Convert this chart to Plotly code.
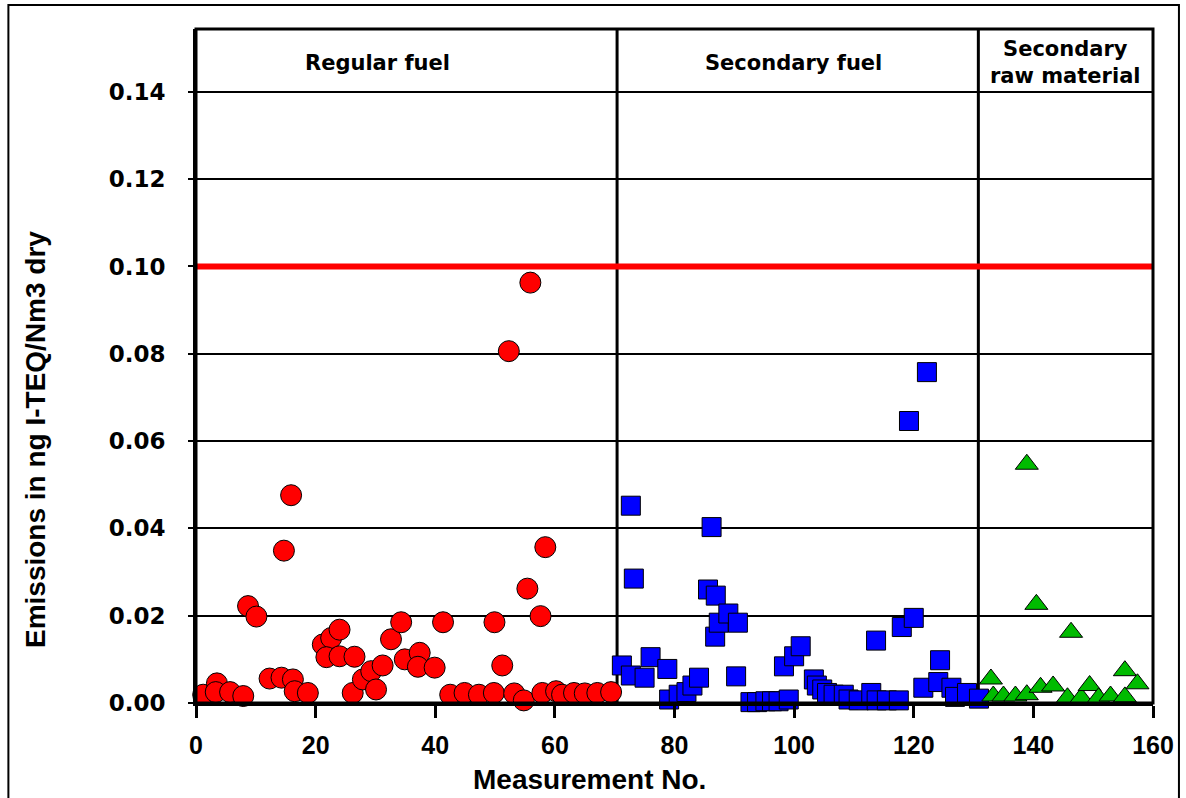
import plotly.graph_objects as go

# Regular fuel (red circles)
reg_x = [1.2, 3.5, 3.3, 5.7, 7.9, 8.7, 10.1, 12.3, 14.3, 16.2, 16.5, 18.7, 14.7, 15.9,
         21.2, 22.6, 24.0, 21.8, 24.0, 26.5, 26.2, 27.9, 29.3, 30.1, 31.2, 32.6, 34.3,
         34.9, 37.4, 37.1, 39.9, 41.3, 42.5, 44.9, 47.3, 49.8, 49.9, 51.2, 52.3, 53.2,
         54.8, 55.4, 55.9, 57.6, 57.9, 58.4, 60.2, 61.2, 63.2, 65.0, 67.1, 69.4]
reg_y = [0.0019, 0.0045, 0.0025, 0.0025, 0.0016, 0.0222, 0.0198, 0.0056, 0.0058, 0.0054,
         0.0027, 0.0023, 0.0349, 0.0476, 0.0134, 0.0149, 0.0168, 0.0105, 0.0107, 0.0106,
         0.0023, 0.0054, 0.0073, 0.0031, 0.0086, 0.0146, 0.0185, 0.0100, 0.0115, 0.0083,
         0.0081, 0.0185, 0.0019, 0.0023, 0.0019, 0.0023, 0.0185, 0.0086, 0.0806, 0.0022,
         0.0006, 0.0262, 0.0963, 0.0199, 0.0023, 0.0357, 0.0027, 0.0019, 0.0023, 0.0022,
         0.0023, 0.0025]

# Secondary fuel (blue squares)
sec_x = [71.2, 72.7, 72.7, 73.2, 75.0, 76.0, 78.8, 79.1, 80.7, 82.0, 83.0, 84.1, 85.6,
         86.2, 86.8, 86.9, 87.4, 89.0, 90.3, 90.6, 92.7, 93.8, 95.2, 96.3, 97.4, 98.3,
         99.1, 100.0, 101.1, 103.3, 103.8, 104.7, 105.5, 106.6, 108.3, 109.1, 110.8,
         112.9, 113.7, 113.8, 115.5, 117.5, 118.0, 119.2, 120.0, 121.6, 122.2, 124.1,
         124.4, 126.3, 126.9, 128.9, 128.9, 130.9]
sec_y = [0.0086, 0.0452, 0.0063, 0.0285, 0.0058, 0.0105, 0.0078, 0.0008, 0.0019, 0.0025,
         0.0040, 0.0058, 0.0260, 0.0403, 0.0152, 0.0246, 0.0184, 0.0205, 0.0061, 0.0184,
         0.0002, 0.0002, 0.0004, 0.0004, 0.0004, 0.0084, 0.0008, 0.0107, 0.0130, 0.0054,
         0.0040, 0.0031, 0.0023, 0.0019, 0.0019, 0.0008, 0.0006, 0.0023, 0.0143, 0.0006,
         0.0006, 0.0006, 0.0174, 0.0646, 0.0195, 0.0035, 0.0758, 0.0048, 0.0098, 0.0035,
         0.0014, 0.0023, -0.0006, 0.0010]

# Secondary raw material (green triangles)
raw_x = [132.9, 133.3, 135.0, 137.0, 138.9, 138.9, 140.5, 141.2, 143.3, 145.7, 146.3,
         148.0, 149.4, 150.9, 152.9, 155.3, 155.3, 157.4]
raw_y = [0.0055, 0.0016, 0.0016, 0.0016, 0.0019, 0.0547, 0.0226, 0.0036, 0.0039, 0.0012,
         0.0162, 0.0012, 0.0040, 0.0012, 0.0016, 0.0074, 0.0014, 0.0044]

limit_value = 0.10
dividers = [70.4, 130.8]
group_labels = ["Regular fuel", "Secondary fuel", "Secondary<br>raw material"]
group_label_x = [30.4, 99.9, 145.3]

y_ticks = [0.0, 0.02, 0.04, 0.06, 0.08, 0.10, 0.12, 0.14]
y_tick_text = ["0.00", "0.02", "0.04", "0.06", "0.08", "0.10", "0.12", "0.14"]
x_ticks = [0, 20, 40, 60, 80, 100, 120, 140, 160]

NARROW = "Liberation Sans Narrow, Arial Narrow, Liberation Sans, Arial, sans-serif"
WIDE = "DejaVu Sans, Verdana, sans-serif"

# pixel geometry of plot area
L, R, T, B = 196, 1155, 29, 703.5
PW, PH = R - L, B - T


def px(xp):
    return (xp - L) / PW


def py(yp):
    return (B - yp) / PH


fig = go.Figure()
fig.add_trace(go.Scatter(x=reg_x, y=reg_y, mode="markers", cliponaxis=False,
                         marker=dict(symbol="circle", size=21, color="#ff0000",
                                     line=dict(color="black", width=1))))
fig.add_trace(go.Scatter(x=sec_x, y=sec_y, mode="markers", cliponaxis=False,
                         marker=dict(symbol="square", size=19, color="#0000ff",
                                     line=dict(color="black", width=1))))
fig.add_trace(go.Scatter(x=raw_x, y=raw_y, mode="markers", cliponaxis=False,
                         marker=dict(symbol="triangle-up", size=20, color="#00bb00",
                                     line=dict(color="black", width=1))))

shapes = []
for d in dividers:
    shapes.append(dict(type="line", xref="x", yref="paper", x0=d, x1=d, y0=0, y1=1,
                       line=dict(color="black", width=3), layer="between"))
shapes.append(dict(type="line", xref="paper", yref="y", x0=0, x1=1, y0=limit_value,
                   y1=limit_value, line=dict(color="#ff0000", width=6), layer="above"))
# plot box
shapes.append(dict(type="rect", xref="paper", yref="paper", x0=0, x1=1, y0=0, y1=1,
                   line=dict(color="black", width=3), layer="above"))
# outer frame
shapes.append(dict(type="rect", xref="paper", yref="paper",
                   x0=px(8), x1=px(1181), y0=py(802), y1=py(5),
                   line=dict(color="black", width=2), layer="above"))

annotations = []
for lbl, lx in zip(group_labels, group_label_x):
    annotations.append(dict(x=lx, y=0.1467, xref="x", yref="y", text="<b>" + lbl + "</b>",
                            showarrow=False, align="center",
                            xanchor="center", yanchor="middle",
                            font=dict(family=WIDE, size=21, color="black")))
annotations.append(dict(x=px(590), y=py(780), xref="paper", yref="paper",
                        xanchor="center", yanchor="middle",
                        text="<b>Measurement No.</b>", showarrow=False,
                        font=dict(family=NARROW, size=28, color="black")))
annotations.append(dict(x=px(35), y=py(440), xref="paper", yref="paper",
                        xanchor="center", yanchor="middle",
                        text="<b>Emissions in ng I-TEQ/Nm3 dry</b>", showarrow=False,
                        textangle=-90,
                        font=dict(family=NARROW, size=28, color="black")))

fig.update_layout(
    width=1186, height=798,
    margin=dict(l=L, r=1186 - R, t=T, b=798 - B),
    paper_bgcolor="white", plot_bgcolor="white",
    showlegend=False,
    shapes=shapes, annotations=annotations,
    xaxis=dict(range=[0, 160], tickvals=x_ticks, ticks="outside", ticklen=12, tickwidth=3,
               tickcolor="black", showgrid=False, zeroline=False, showline=True,
               linecolor="black", linewidth=3, ticklabelstandoff=6,
               tickfont=dict(family=NARROW, size=25, color="black", weight="bold")),
    yaxis=dict(range=[0, 0.1544], tickvals=y_ticks, ticktext=y_tick_text, ticks="outside",
               ticklen=5, tickwidth=2, tickcolor="black", showgrid=True, gridcolor="black",
               gridwidth=2, zeroline=False, showline=True, linecolor="black", linewidth=3,
               ticklabelstandoff=18,
               tickfont=dict(family=WIDE, size=23, color="black", weight="bold")),
)

fig.write_html("out.html", config={"displayModeBar": False},
               post_script="document.body.style.margin='0';document.body.style.overflow='hidden';")
